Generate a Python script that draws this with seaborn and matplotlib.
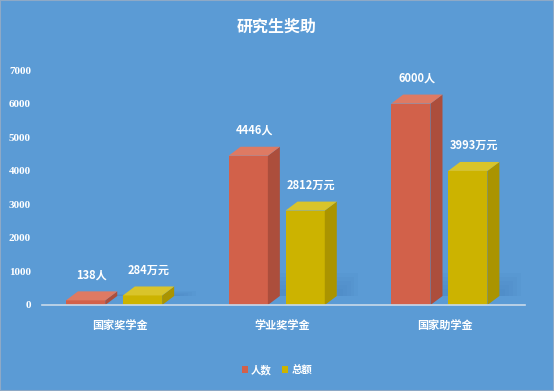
import matplotlib
matplotlib.use("Agg")
import matplotlib.pyplot as plt
import seaborn as sns
import pandas as pd
from matplotlib.patches import Polygon, Patch

categories = ["国家奖学金", "学业奖学金", "国家助学金"]
series_names = ["人数", "总额"]
people = [138, 4446, 6000]
amount = [284, 2812, 3993]
label_suffix = ["人", "万元"]
yticks = [0, 1000, 2000, 3000, 4000, 5000, 6000, 7000]

df = pd.DataFrame({
    "类别": categories * 2,
    "系列": [series_names[0]] * 3 + [series_names[1]] * 3,
    "值": people + amount,
})

BG = "#5B9BD5"
front_cols = {"人数": "#D2614A", "总额": "#CCB300"}
side_cols = {"人数": "#AC4E3C", "总额": "#AA9400"}
top_cols = {"人数": "#DE7A63", "总额": "#D9C42A"}

sns.set_theme(style="white")
plt.rcParams["font.family"] = ["Noto Sans CJK SC", "DejaVu Sans"]

W, H = 5.54, 3.91
fig = plt.figure(figsize=(W, H), dpi=100, facecolor=BG)
ax_l, ax_r, ax_b, ax_t = 42 / 554, 525 / 554, 1 - 305 / 391, 1 - 70 / 391
ax = fig.add_axes([ax_l, ax_b, ax_r - ax_l, ax_t - ax_b])
ax.set_facecolor(BG)

sns.barplot(data=df, x="类别", y="值", hue="系列", order=categories,
            hue_order=series_names, palette=front_cols, width=0.70, gap=0.31,
            dodge=True, ax=ax, legend=False, saturation=1, edgecolor="none")

xlim = (-0.48, 2.49)
ylim = (0, 7000)
ax.set_xlim(*xlim)
ax.set_ylim(*ylim)

ax_w_px = (ax_r - ax_l) * W * 100
ax_h_px = (ax_t - ax_b) * H * 100
px_x = (xlim[1] - xlim[0]) / ax_w_px
px_y = (ylim[1] - ylim[0]) / ax_h_px
dx = 12 * px_x
dy = 9 * px_y

bars = [p for p in ax.patches]
vals = [people, amount]
for si, name in enumerate(series_names):
    for ci in range(len(categories)):
        p = bars[si * len(categories) + ci]
        x0 = p.get_x() - dx / 2
        w = p.get_width()
        h = p.get_height()
        p.set_x(x0)
        # soft floor shadow (layered for a blurred look)
        sh_h = min(h, 1400) * 0.5
        for k in range(5):
            grow = 1 - k * 0.18
            shadow = Polygon([(x0 + w + dx, dy), (x0 + w + dx + dx * 1.8 * grow, dy),
                              (x0 + w + dx + dx * 1.8 * grow, sh_h * grow + dy),
                              (x0 + w + dx, sh_h * grow + dy)],
                             closed=True, facecolor="#3E78B3", alpha=0.07, edgecolor="none", zorder=1)
            ax.add_patch(shadow)
        side = Polygon([(x0 + w, 0), (x0 + w + dx, dy), (x0 + w + dx, h + dy), (x0 + w, h)],
                       closed=True, facecolor=side_cols[name], edgecolor="none", zorder=3, clip_on=False)
        top = Polygon([(x0, h), (x0 + dx, h + dy), (x0 + w + dx, h + dy), (x0 + w, h)],
                      closed=True, facecolor=top_cols[name], edgecolor="none", zorder=3, clip_on=False)
        ax.add_patch(side)
        ax.add_patch(top)
        p.set_zorder(3)
        ax.text(x0 + w / 2 + dx / 2, h + dy + 10 * px_y, f"{vals[si][ci]}{label_suffix[si]}",
                ha="center", va="bottom", color="white", fontsize=8, fontweight="bold", zorder=5)

for s in ["top", "right", "left"]:
    ax.spines[s].set_visible(False)
ax.spines["bottom"].set_color("#C9DAEA")
ax.spines["bottom"].set_linewidth(1.2)
ax.spines["bottom"].set_zorder(4)

ax.set_yticks(yticks)
ax.set_yticklabels([str(v) for v in yticks])
ax.tick_params(axis="y", length=0, pad=8, labelfontfamily="Liberation Serif",
               labelsize=8, labelcolor="white")
for lab in ax.get_yticklabels():
    lab.set_fontweight("bold")
ax.tick_params(axis="x", length=0, pad=10, colors="white")
for lab in ax.get_xticklabels():
    lab.set_fontweight("bold")
    lab.set_fontsize(8)
    lab.set_color("white")
ax.set_xlabel("")
ax.set_ylabel("")

fig.text(0.5, 1 - 27 / 391, "研究生奖助", ha="center", va="center", color="white",
         fontsize=11.5, fontweight="bold")

handles = [Patch(facecolor=front_cols[n], edgecolor="none", label=n) for n in series_names]
leg = fig.legend(handles=handles, loc="center", bbox_to_anchor=(0.5, 1 - 370 / 391), ncol=2,
                 frameon=False, handlelength=0.6, handleheight=0.6, handletextpad=0.3,
                 columnspacing=1.0, fontsize=7.5)
for t in leg.get_texts():
    t.set_color("white")
    t.set_fontweight("bold")

fig.patches.append(plt.Rectangle((0, 0), 1, 1, transform=fig.transFigure, fill=False,
                                 edgecolor="#8EA9C6", linewidth=1.5))

fig.savefig("out.png", dpi=100, facecolor=BG)
